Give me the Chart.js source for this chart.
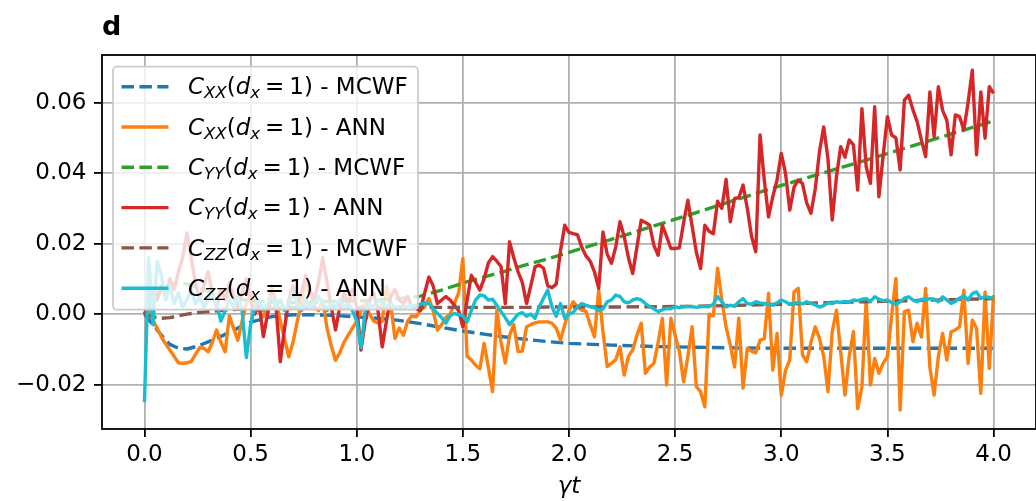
<!DOCTYPE html>
<html>
<head>
<meta charset="utf-8">
<script src="https://cdn.jsdelivr.net/npm/chart.js@4.4.0/dist/chart.umd.min.js"></script>
<style>
html, body { margin: 0; padding: 0; background: #fff; overflow: hidden; }
</style>
</head>
<body>
<canvas id="corrChart" width="1036" height="501"></canvas>
<script>
// time grid of the ANN runs (gamma t)
const tAnn = [
  0, 0.02, 0.04, 0.06, 0.08, 0.1, 0.12, 0.14, 0.16, 0.18,
  0.2, 0.22, 0.24, 0.26, 0.28, 0.3, 0.32, 0.34, 0.36, 0.38,
  0.4, 0.42, 0.44, 0.46, 0.48, 0.5, 0.52, 0.54, 0.56, 0.58,
  0.6, 0.62, 0.64, 0.66, 0.68, 0.7, 0.72, 0.74, 0.76, 0.78,
  0.8, 0.82, 0.84, 0.86, 0.88, 0.9, 0.92, 0.94, 0.96, 0.98,
  1, 1.02, 1.04, 1.06, 1.08, 1.1, 1.12, 1.14, 1.16, 1.18,
  1.2, 1.22, 1.24, 1.26, 1.28, 1.3, 1.32, 1.34, 1.36, 1.38,
  1.4, 1.42, 1.44, 1.46, 1.48, 1.5, 1.52, 1.54, 1.56, 1.58,
  1.6, 1.62, 1.64, 1.66, 1.68, 1.7, 1.72, 1.74, 1.76, 1.78,
  1.8, 1.82, 1.84, 1.86, 1.88, 1.9, 1.92, 1.94, 1.96, 1.98,
  2, 2.02, 2.04, 2.06, 2.08, 2.1, 2.12, 2.14, 2.16, 2.18,
  2.2, 2.22, 2.24, 2.26, 2.28, 2.3, 2.32, 2.34, 2.36, 2.38,
  2.4, 2.42, 2.44, 2.46, 2.48, 2.5, 2.52, 2.54, 2.56, 2.58,
  2.6, 2.62, 2.64, 2.66, 2.68, 2.7, 2.72, 2.74, 2.76, 2.78,
  2.8, 2.82, 2.84, 2.86, 2.88, 2.9, 2.92, 2.94, 2.96, 2.98,
  3, 3.02, 3.04, 3.06, 3.08, 3.1, 3.12, 3.14, 3.16, 3.18,
  3.2, 3.22, 3.24, 3.26, 3.28, 3.3, 3.32, 3.34, 3.36, 3.38,
  3.4, 3.42, 3.44, 3.46, 3.48, 3.5, 3.52, 3.54, 3.56, 3.58,
  3.6, 3.62, 3.64, 3.66, 3.68, 3.7, 3.72, 3.74, 3.76, 3.78,
  3.8, 3.82, 3.84, 3.86, 3.88, 3.9, 3.92, 3.94, 3.96, 3.98,
  4
];

// time points of the MCWF curves
const tMcwf = [0, 0.04, 0.08, 0.12, 0.16, 0.2, 0.25, 0.3, 0.35, 0.4, 0.45, 0.5, 0.6, 0.7, 0.8, 0.9,
  1.0, 1.1, 1.2, 1.3, 1.4, 1.5, 1.6, 1.7, 1.8, 1.9, 2.0, 2.2, 2.4, 2.6, 2.8, 3.0, 3.2, 3.4, 3.6, 3.8, 4.0];

const xxMcwf = [0, -0.003, -0.006, -0.0086, -0.0097, -0.0099, -0.0091, -0.0079, -0.0066, -0.0052, -0.0037, -0.0023,
  -0.0007, -0.0002, -0.0002, -0.0004, -0.0008, -0.0012, -0.0018, -0.0027, -0.0038, -0.0048, -0.0057, -0.0065,
  -0.0072, -0.0078, -0.0083, -0.0088, -0.0092, -0.0094, -0.0096, -0.0097, -0.0097, -0.0097, -0.0097, -0.0097, -0.0097];

const yyMcwf = [0, 0.004, 0.007, 0.0085, 0.009, 0.0085, 0.0075, 0.0065, 0.0055, 0.0048, 0.0042, 0.0038,
  0.0034, 0.0033, 0.0034, 0.0036, 0.0038, 0.004, 0.0044, 0.0051, 0.0068, 0.0088, 0.0105, 0.0122,
  0.014, 0.0157, 0.0175, 0.0212, 0.025, 0.0288, 0.0327, 0.0365, 0.0401, 0.0437, 0.0474, 0.0511, 0.0548];

const zzMcwf = [0, -0.0008, -0.0012, -0.001, -0.0005, 0, 0.0004, 0.0007, 0.001, 0.0012, 0.0014, 0.0015,
  0.0017, 0.0018, 0.0019, 0.0019, 0.0019, 0.0019, 0.0019, 0.0019, 0.0019, 0.0019, 0.0019, 0.0019,
  0.0019, 0.002, 0.002, 0.002, 0.0021, 0.0022, 0.0025, 0.0028, 0.0032, 0.0035, 0.0038, 0.0041, 0.0044];

const xxAnn = [
  0, 0.001, -0.0017, -0.004, -0.0065, -0.0085, -0.0102, -0.012, -0.0138, -0.014,
  -0.0138, -0.0135, -0.0115, -0.0095, -0.0097, -0.0107, -0.008, -0.0045, -0.008, -0.0107,
  -0.0005, -0.004, -0.0074, -0.002, 0.003, 0.006, 0.004, 0.001, -0.0008, 0.002,
  0.008, 0.004, -0.002, -0.007, -0.0121, -0.008, -0.002, 0.003, 0.009, 0.006,
  0.002, 0.001, 0.004, -0.004, -0.009, -0.0131, -0.011, -0.008, -0.006, -0.004,
  -0.002, 0.001, 0.003, 0, -0.002, -0.0025, -0.002, 0.0078, 0.003, -0.0069,
  -0.004, -0.006, -0.002, -0.0005, -0.0008, 0.0011, 0.002, 0.0044, 0.001, -0.0045,
  -0.003, -0.001, 0, 0.003, 0.006, 0.0158, -0.012, -0.013, -0.0145, -0.0155,
  -0.0083, -0.015, -0.022, 0.0011, -0.008, -0.0139, -0.006, -0.003, -0.0106, -0.0105,
  -0.0036, -0.003, -0.0025, -0.0022, -0.0022, -0.0022, -0.0026, -0.004, -0.0074, -0.003,
  0.001, 0.0035, 0.002, 0.0011, 0.0008, -0.003, -0.0064, 0.0068, -0.005, -0.0149,
  -0.014, -0.013, -0.0093, -0.0173, -0.012, -0.0102, -0.006, -0.0026, -0.0168, -0.015,
  -0.014, -0.008, -0.0012, -0.0201, -0.0012, -0.006, -0.0106, -0.0192, -0.012, -0.0036,
  -0.0206, -0.022, -0.0263, 0, -0.0005, 0.013, 0.004, -0.0036, -0.0088, -0.015,
  -0.0012, -0.021, -0.0097, -0.0105, -0.011, -0.0074, -0.007, 0.0059, -0.0159, -0.0055,
  -0.023, -0.016, -0.013, 0.0063, 0.0073, -0.0116, -0.0135, -0.008, -0.0036, -0.0069,
  -0.012, -0.022, -0.005, 0.0011, -0.0107, -0.023, -0.012, -0.005, -0.0268, -0.0206,
  0.004, -0.0201, -0.0126, -0.0168, -0.014, -0.0121, -0.0003, 0.0101, -0.0272, 0.0007,
  0.0011, -0.0078, -0.0026, -0.0065, 0.0073, -0.015, -0.023, -0.012, -0.0055, -0.013,
  -0.005, -0.0045, -0.0036, 0.0068, -0.014, -0.0017, -0.004, -0.0225, 0.0063, -0.0154,
  0.0054
];

const yyAnn = [
  0, 0.003, 0.006, 0.004, 0.008, 0.005, 0.01, 0.007, 0.012, 0.016,
  0.023, 0.016, 0.009, 0.004, 0.008, 0.012, 0.006, 0.002, 0.007, 0.004,
  0.009, 0.005, 0.002, 0.006, 0.01, 0.004, 0, 0.003, -0.0064, 0,
  0.006, 0.002, -0.0135, -0.004, 0.004, 0.008, 0.003, 0.006, 0.011, 0.007,
  0.004, 0.009, 0.016, 0.009, 0.002, -0.0045, 0.002, 0.006, 0.003, 0.007,
  0.002, -0.0102, -0.002, 0.004, 0.006, 0.001, -0.0093, -0.002, 0.005, 0.007,
  0.004, 0.003, 0.005, 0.002, 0.0015, 0.001, 0.006, 0.0105, 0.008, 0.003,
  0.004, 0.005, 0.004, 0.0025, 0.001, -0.0036, 0.004, 0.011, 0.009, 0.0068,
  0.01, 0.0145, 0.0163, 0.015, 0.0135, 0.003, 0.0205, 0.016, 0.012, 0.009,
  0.003, 0.008, 0.0134, 0.0139, 0.013, 0.008, 0.0075, 0.0085, 0.018, 0.0252,
  0.0232, 0.0228, 0.0225, 0.019, 0.0165, 0.015, 0.012, 0.0073, 0.0233, 0.017,
  0.0144, 0.019, 0.0262, 0.022, 0.016, 0.0115, 0.019, 0.0266, 0.026, 0.0252,
  0.0195, 0.0167, 0.0252, 0.022, 0.0186, 0.0186, 0.0188, 0.026, 0.0323, 0.025,
  0.0175, 0.0129, 0.0252, 0.0235, 0.0228, 0.032, 0.03, 0.0382, 0.0262, 0.0328,
  0.033, 0.0366, 0.03, 0.022, 0.0177, 0.0508, 0.038, 0.0276, 0.0333, 0.038,
  0.0456, 0.04, 0.0295, 0.036, 0.038, 0.037, 0.0315, 0.0286, 0.0355, 0.0461,
  0.0531, 0.044, 0.0267, 0.039, 0.0475, 0.0445, 0.0494, 0.048, 0.0352, 0.0583,
  0.0418, 0.0371, 0.0588, 0.0333, 0.045, 0.056, 0.0508, 0.05, 0.0409, 0.0607,
  0.0621, 0.058, 0.0546, 0.0494, 0.0447, 0.063, 0.0503, 0.0645, 0.0578, 0.055,
  0.0452, 0.0565, 0.056, 0.0522, 0.06, 0.0692, 0.0452, 0.063, 0.0499, 0.0645,
  0.0626
];

const zzAnn = [
  -0.025, 0.016, -0.003, 0.015, 0.011, 0.004, 0.008, 0.003, 0.006, 0.002,
  0.004, 0.007, 0.003, 0.005, 0.002, 0.004, 0.006, 0.003, -0.002, 0.001,
  0.004, 0.002, 0.005, 0.001, -0.0123, -0.003, 0.002, 0.004, 0.001, 0.003,
  0.005, 0.002, 0.004, 0.001, 0.003, 0.006, 0.003, 0.001, 0.004, 0.002,
  0.003, 0.005, 0.003, 0.001, 0.003, 0.002, 0.004, 0.002, 0.003, 0.001,
  -0.002, -0.0095, 0.001, 0.003, 0.002, 0.004, 0.003, 0.002, 0.003, 0.002,
  0.0021, 0.002, 0.0022, 0.0025, 0.0024, 0.0028, 0.0032, 0.003, 0.0015, 0.0002,
  -0.001, -0.0026, -0.0005, 0.0002, -0.0002, -0.0004, -0.0022, 0.001, 0.004, 0.0054,
  0.0052, 0.004, 0.0042, 0.0025, 0.0007, -0.001, -0.003, -0.0015, 0, 0.0004,
  -0.0006, 0, -0.0012, 0.0021, 0.0045, 0.0068, 0.002, -0.0006, 0.003, -0.0012,
  0, 0.0005, 0.002, 0.003, 0.0025, 0.0021, 0.0018, 0.0011, 0.0015, 0.0035,
  0.004, 0.0054, 0.005, 0.0035, 0.0032, 0.004, 0.0044, 0.004, 0.003, 0.0021,
  0.0015, 0.0007, 0.0012, 0.0016, 0.0015, 0.0021, 0.0018, 0.0021, 0.0022, 0.0021,
  0.0019, 0.0021, 0.0022, 0.0021, 0.0028, 0.005, 0.0035, 0.002, 0.0025, 0.0022,
  0.0035, 0.0044, 0.003, 0.0028, 0.0035, 0.0032, 0.003, 0.0028, 0.0025, 0.0032,
  0.004, 0.0035, 0.0028, 0.003, 0.0033, 0.0029, 0.0035, 0.003, 0.0026, 0.002,
  0.0024, 0.0032, 0.003, 0.0035, 0.0033, 0.0036, 0.0034, 0.004, 0.0038, 0.0042,
  0.0044, 0.0036, 0.0049, 0.0042, 0.0038, 0.004, 0.0033, 0.0028, 0.0035, 0.0045,
  0.0049, 0.004, 0.0035, 0.0042, 0.004, 0.0044, 0.0042, 0.0035, 0.0049, 0.004,
  0.003, 0.0036, 0.0045, 0.0052, 0.004, 0.0058, 0.0063, 0.0044, 0.005, 0.0047,
  0.0045
];

const xTicks = [0, 0.5, 1, 1.5, 2, 2.5, 3, 3.5, 4];
const yTicks = [-0.02, 0, 0.02, 0.04, 0.06];

// legend pieces: operator subscript + method
const legendOps = ['XX', 'XX', 'YY', 'YY', 'ZZ', 'ZZ'];
const legendMethods = ['MCWF', 'ANN', 'MCWF', 'ANN', 'MCWF', 'ANN'];

const FONT = '"DejaVu Sans", sans-serif';
const DASH = [12.5, 5.4];

const pts = (t, v) => t.map((x, i) => ({x: x, y: v[i]}));

const series = [
  {data: pts(tMcwf, xxMcwf), borderColor: '#1f77b4', borderDash: DASH},
  {data: pts(tAnn, xxAnn), borderColor: '#ff7f0e', borderDash: []},
  {data: pts(tMcwf, yyMcwf), borderColor: '#2ca02c', borderDash: DASH},
  {data: pts(tAnn, yyAnn), borderColor: '#d62728', borderDash: []},
  {data: pts(tMcwf, zzMcwf), borderColor: '#8c564b', borderDash: DASH},
  {data: pts(tAnn, zzAnn), borderColor: '#17becf', borderDash: []}
].map((d, i) => Object.assign({
  label: 'C_' + legendOps[i] + '(d_x=1) - ' + legendMethods[i],
  borderWidth: 3.4,
  pointRadius: 0,
  tension: 0,
  fill: false,
  borderCapStyle: 'butt',
  borderJoinStyle: 'round',
  order: 5 - i
}, d));

// black box around the axes (drawn over the lines like matplotlib spines)
const framePlugin = {
  id: 'frame',
  afterDatasetsDraw(chart) {
    const {ctx, chartArea: a} = chart;
    ctx.save();
    ctx.strokeStyle = '#000';
    ctx.lineWidth = 1.8;
    ctx.strokeRect(a.left, a.top, a.right - a.left, a.bottom - a.top);
    ctx.restore();
  }
};

const titlePlugin = {
  id: 'panelTitle',
  afterDraw(chart) {
    const ctx = chart.ctx;
    ctx.save();
    ctx.fillStyle = '#000';
    ctx.font = 'bold 27px ' + FONT;
    ctx.textBaseline = 'alphabetic';
    ctx.textAlign = 'left';
    ctx.fillText('d', chart.chartArea.left, 35);
    ctx.restore();
  }
};

// text, style, size, drop, gap after
function drawMathLabel(ctx, x, y, op, method) {
  const parts = [
    ['C', 'italic', 23, 0, 0],
    [op, 'italic', 16.5, 4, 0],
    ['(', 'normal', 23, 0, 0],
    ['d', 'italic', 23, 0, 0],
    ['x', 'italic', 16.5, 4, 5],
    ['=', 'normal', 23, 0, 5],
    ['1)', 'normal', 23, 0, 0],
    [' - ' + method, 'normal', 23, 0, 0]
  ];
  let cx = x;
  parts.forEach(p => {
    ctx.font = p[1] + ' ' + p[2] + 'px ' + FONT;
    ctx.fillText(p[0], cx, y + p[3]);
    cx += ctx.measureText(p[0]).width + p[4];
  });
}

const legendPlugin = {
  id: 'mathLegend',
  afterDraw(chart) {
    const ctx = chart.ctx;
    const a = chart.chartArea;
    const bx = a.left + 11, by = a.top + 11.7, bw = 305, bh = 243;
    ctx.save();
    ctx.beginPath();
    ctx.roundRect(bx, by, bw, bh, 4);
    ctx.fillStyle = 'rgba(255,255,255,0.8)';
    ctx.fill();
    ctx.strokeStyle = '#cccccc';
    ctx.lineWidth = 1.8;
    ctx.stroke();
    chart.data.datasets.forEach((ds, i) => {
      const cy = by + 20 + i * 40.3;
      ctx.strokeStyle = ds.borderColor;
      ctx.lineWidth = 3.4;
      ctx.lineCap = 'butt';
      ctx.setLineDash(ds.borderDash);
      ctx.beginPath();
      ctx.moveTo(bx + 8.5, cy);
      ctx.lineTo(bx + 55.5, cy);
      ctx.stroke();
      ctx.setLineDash([]);
      ctx.fillStyle = '#000';
      ctx.textBaseline = 'alphabetic';
      ctx.textAlign = 'left';
      drawMathLabel(ctx, bx + 75, cy + 7.6, legendOps[i], legendMethods[i]);
    });
    ctx.restore();
  }
};

const ctx = document.getElementById('corrChart').getContext('2d');
const myChart = new Chart(ctx, {
  type: 'line',
  data: {datasets: series},
  plugins: [framePlugin, legendPlugin, titlePlugin],
  options: {
    responsive: false,
    animation: false,
    devicePixelRatio: 1,
    parsing: false,
    normalized: true,
    layout: {padding: {top: 55, left: 0, right: 0, bottom: 0}},
    plugins: {legend: {display: false}, tooltip: {enabled: false}},
    scales: {
      x: {
        type: 'linear',
        min: -0.2,
        max: 4.2,
        afterBuildTicks: s => { s.ticks = xTicks.map(v => ({value: v})); },
        afterFit: s => { s.height = 72; },
        grid: {color: '#b0b0b0', lineWidth: 1.8, tickColor: '#000', tickLength: 8, tickWidth: 1.8},
        border: {display: false},
        ticks: {
          font: {family: FONT, size: 23},
          color: '#000',
          padding: 4,
          maxRotation: 0,
          autoSkip: false,
          callback: v => v.toFixed(1)
        },
        title: {
          display: true,
          text: 'γt',
          font: {family: FONT, size: 23, style: 'italic'},
          color: '#000',
          padding: {top: 0, bottom: 0}
        }
      },
      y: {
        type: 'linear',
        min: -0.0326,
        max: 0.0735,
        afterBuildTicks: s => { s.ticks = yTicks.map(v => ({value: v})); },
        afterFit: s => { s.width = 102; },
        grid: {color: '#b0b0b0', lineWidth: 1.8, tickColor: '#000', tickLength: 8, tickWidth: 1.8},
        border: {display: false},
        ticks: {
          font: {family: FONT, size: 23},
          color: '#000',
          padding: 7.5,
          callback: v => (v < 0 ? '\u2212' : '') + Math.abs(v).toFixed(2)
        }
      }
    }
  }
});
</script>
</body>
</html>
